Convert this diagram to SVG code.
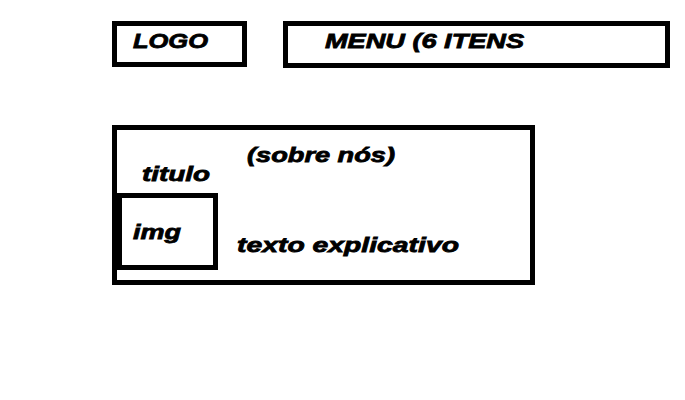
<svg xmlns="http://www.w3.org/2000/svg" width="685" height="400" viewBox="0 0 685 400">
<style>
.box{fill:none;stroke:#000;stroke-width:5}
.t{font-family:"Liberation Sans",Arial,sans-serif;font-weight:bold;font-style:italic;font-size:21px;fill:#000;stroke:#000;stroke-width:0.8}
</style>
<rect width="685" height="400" fill="#fff"/>
<g id="logo">
<rect class="box" x="114.5" y="23.5" width="130" height="41"/>
<text class="t" x="133" y="48" textLength="75" lengthAdjust="spacingAndGlyphs">LOGO</text>
</g>
<g id="menu">
<rect class="box" x="285.5" y="23.5" width="382" height="42"/>
<text class="t" x="325" y="48" textLength="199" lengthAdjust="spacingAndGlyphs">MENU (6 ITENS</text>
</g>
<g id="sobre">
<rect class="box" x="114.5" y="127.5" width="418" height="155"/>
<text class="t" x="247" y="162" textLength="148" lengthAdjust="spacingAndGlyphs">(sobre nós)</text>
<text class="t" x="142" y="181" textLength="68" lengthAdjust="spacingAndGlyphs">titulo</text>
<text class="t" x="237" y="252" textLength="222" lengthAdjust="spacingAndGlyphs">texto explicativo</text>
</g>
<g id="img">
<rect class="box" x="119.5" y="195.5" width="96" height="72"/>
<text class="t" x="133" y="239" textLength="48" lengthAdjust="spacingAndGlyphs">img</text>
</g>
<g id="connectors"></g>
</svg>
